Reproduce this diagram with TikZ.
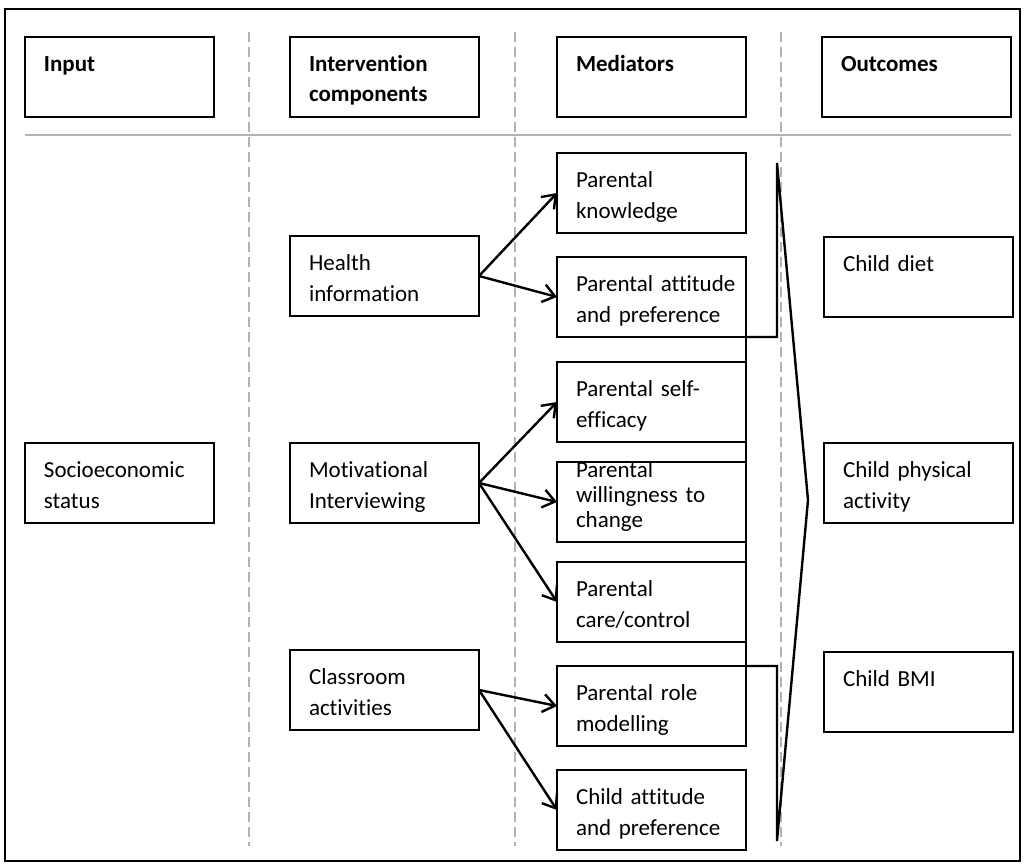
\documentclass[tikz,border=0pt]{standalone}
\usepackage{fontspec}
\setmainfont{Carlito}[Ligatures=NoCommon]
\usetikzlibrary{arrows.meta}

\tikzset{
  box/.style={draw, line width=1.4pt, anchor=north west, inner xsep=9.5pt, inner ysep=0pt,
    outer sep=0pt, text width=75.5pt, align=left, text height=17.5pt, text depth=22.5pt,
    font=\fontsize{11.5}{15.5}\selectfont},
  headbox/.style={box, font=\fontsize{11.5}{15}\selectfont\bfseries},
  colsep/.style={gray!60, line width=1pt, dash pattern=on 5pt off 2.5pt},
  arr/.style={->, line width=1.2pt}
}

\begin{document}
\begin{tikzpicture}[x=0.5pt, y=-0.5pt, >={Straight Barb[length=6pt,width=9pt]}]
  \useasboundingbox (0,0) rectangle (1025,866);
  \draw[line width=1pt] (5,9) rectangle (1020,861);
  % column separators
  \foreach \x in {249,515,781}
    \draw[colsep] (\x,32) -- (\x,846);
  \draw[gray!60, line width=1pt] (25,135) -- (1011,135);
  % headers
  \node[headbox] (inp) at (25,37) {Input};
  \node[headbox] (intv) at (290,37) {Intervention\\components};
  \node[headbox] (medh) at (557,37) {Mediators};
  \node[headbox] (outh) at (822,37) {Outcomes};
  % input
  \node[box] (ses) at (25,443) {Socioeconomic\\status};
  % intervention components
  \node[box] (health) at (290,236) {Health\\information};
  \node[box] (motiv) at (290,443) {Motivational\\Interviewing};
  \node[box] (class) at (290,650) {Classroom\\activities};
  % mediators
  \node[box] (med1) at (557,153) {Parental\\knowledge};
  \node[box] (med2) at (557,257) {\mbox{Parental attitude}\\and preference};
  \node[box] (med3) at (557,362) {Parental self-\\efficacy};
  \node[box, text height=8pt, text depth=32pt, font=\fontsize{11.5}{12.5}\selectfont] (med4) at (557,462) {Parental\\willingness to\\change};
  \node[box] (med5) at (557,562) {Parental\\care/control};
  \node[box] (med6) at (557,666) {Parental role\\modelling};
  \node[box] (med7) at (557,770) {Child attitude\\and preference};
  % outcomes
  \node[box] (diet) at (824,237) {Child diet};
  \node[box] (phys) at (824,443) {Child physical\\activity};
  \node[box] (bmi) at (824,652) {Child BMI};
  % arrows
  \draw[arr] (health.east) -- (med1.west);
  \draw[arr] (health.east) -- (med2.west);
  \draw[arr] (motiv.east) -- (med3.west);
  \draw[arr] (motiv.east) -- (med4.west);
  \draw[arr] (motiv.east) -- (med5.west);
  \draw[arr] (class.east) -- (med6.west);
  \draw[arr] (class.east) -- (med7.west);
  % bracket to outcomes
  \draw[line width=1.2pt] (med2.south east) -| (777,163) -- (808,500) -- (777,841) |- (med6.north east);
  \draw[line width=1.2pt] (med2.south east) -- (med6.north east);
\end{tikzpicture}
\end{document}
